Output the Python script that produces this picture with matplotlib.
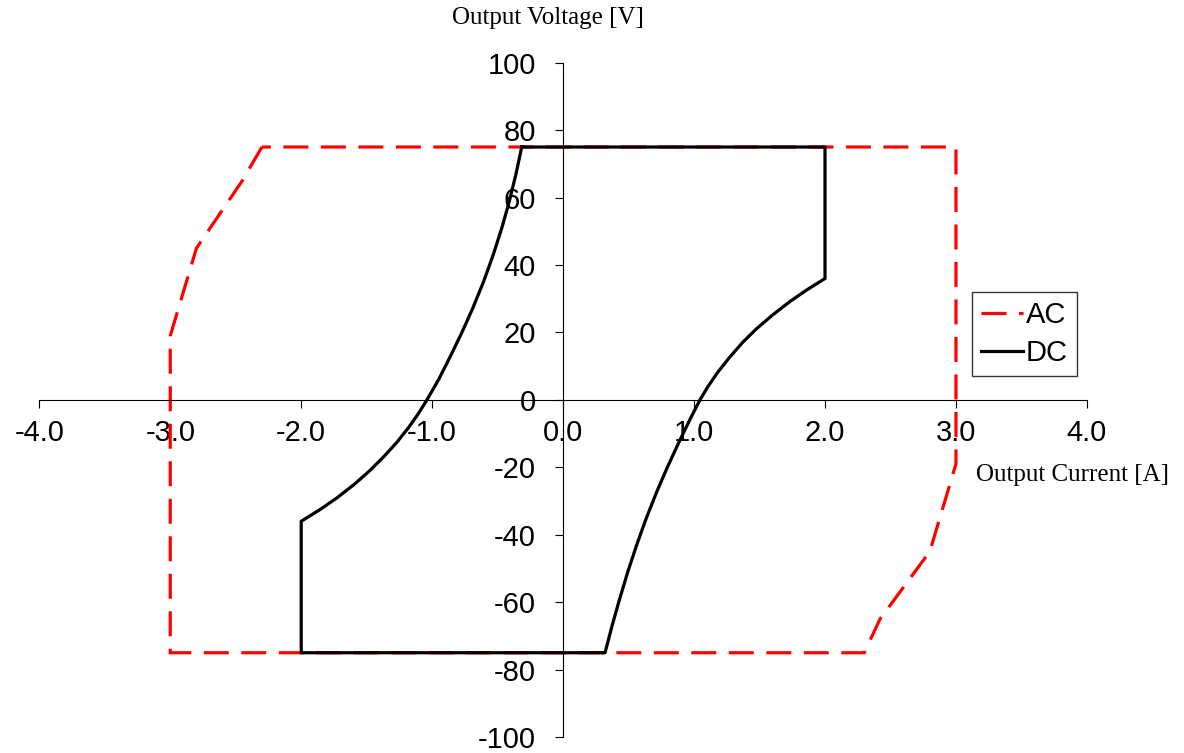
import matplotlib
matplotlib.use("Agg")
import matplotlib.pyplot as plt
import numpy as np

plt.rcParams['font.family'] = ['Liberation Sans', 'DejaVu Sans']
plt.rcParams['axes.unicode_minus'] = False
plt.rcParams['lines.scale_dashes'] = False

# AC operating envelope (current [A], voltage [V])
ac_current = [-2.3, -2.45, -2.8, -3.0, -3.0, 2.3, 2.42, 2.8, 3.0, 3.0, -2.3]
ac_voltage = [75, 65, 45, 19, -75, -75, -65, -45, -19, 75, 75]

# DC operating envelope: top edge, right curve, bottom edge, left curve
dc_current = [-0.316, 2.0,
              2.0, 1.856, 1.726, 1.594, 1.474, 1.37, 1.271, 1.177, 1.107, 1.045,
              0.966, 0.879, 0.796, 0.718, 0.636, 0.562, 0.494, 0.432, 0.374, 0.32,
              -2.0,
              -2.0, -1.855, -1.725, -1.593, -1.477, -1.373, -1.27, -1.176, -1.104, -1.04,
              -0.951, -0.86, -0.773, -0.692, -0.608, -0.534, -0.468, -0.41, -0.36, -0.316]
dc_voltage = [75, 75,
              36, 32.5, 29, 25, 21, 17, 12.6, 8, 4, 0,
              -6, -13, -20, -27, -35, -43, -51, -59, -67, -75,
              -75,
              -36, -32.5, -29, -25, -21, -17, -12.6, -8, -4, 0,
              6, 13, 20, 27, 35, 43, 51, 59, 67, 75]

x_ticks = np.arange(-4, 4.01, 1.0)
y_ticks = np.arange(-100, 101, 20)

fig = plt.figure(figsize=(11.84, 7.53), dpi=100)
ax = fig.add_axes([0.0332, 0.0212, 0.918 - 0.0332, 0.9167 - 0.0212])

ax.plot(ac_current, ac_voltage, color='#ff0000', lw=2.3, dashes=(18, 9), label='AC',
        solid_joinstyle='miter', dash_joinstyle='miter')
ax.plot(dc_current, dc_voltage, color='black', lw=2.3, label='DC', solid_joinstyle='round')

ax.set_xlim(-4, 4)
ax.set_ylim(-100, 100)
ax.set_xticks(x_ticks)
ax.set_yticks(y_ticks)
ax.set_xticklabels(['%.1f' % v for v in x_ticks])
ax.set_yticklabels(['%d' % v for v in y_ticks])

for s in ['top', 'right']:
    ax.spines[s].set_visible(False)
ax.spines['left'].set_position(('data', 0))
ax.spines['bottom'].set_position(('data', 0))
ax.spines['left'].set_linewidth(0.8)
ax.spines['bottom'].set_linewidth(0.8)
ax.tick_params(axis='x', direction='out', length=5.5, width=0.8, labelsize=21, pad=8)
ax.tick_params(axis='y', direction='out', length=5.5, width=0.8, labelsize=21, pad=14)

fig.text(548 / 1184, 1 - 18 / 753, 'Output Voltage [V]', family='Liberation Serif',
         fontsize=18, ha='center', va='center')
fig.text(1073 / 1184, 1 - 475 / 753, 'Output Current [A]', family='Liberation Serif',
         fontsize=18, ha='center', va='center')

leg = ax.legend(loc='upper left', bbox_to_anchor=(972 / 1184, 1 - 292 / 753),
                bbox_transform=fig.transFigure, fontsize=21, frameon=True, fancybox=False,
                handlelength=1.45, handletextpad=0.1, borderpad=0.3, labelspacing=0.35,
                borderaxespad=0)
leg.get_frame().set_edgecolor('black')
leg.get_frame().set_linewidth(1.0)

fig.savefig('out.png', dpi=100)
